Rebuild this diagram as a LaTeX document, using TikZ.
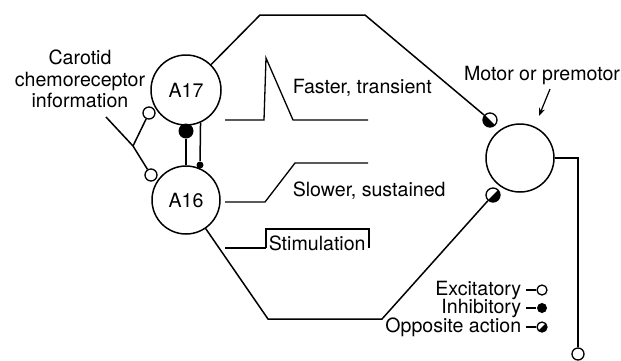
\documentclass[tikz,border=0pt]{standalone}
\usepackage{fontspec}
\setmainfont{TeX Gyre Heros}
\usetikzlibrary{arrows.meta, calc}

\begin{document}
\begin{tikzpicture}[x=1pt, y=-1pt, line width=1.5pt,
    font=\fontsize{19.6}{21.5}\selectfont,
    cell/.style={circle, draw, line width=1.5pt, minimum size=70pt, inner sep=0pt},
    excit/.style={circle, draw, fill=white, line width=1.3pt, minimum size=12pt, inner sep=0pt},
    inhib/.style={circle, fill=black, minimum size=15pt, inner sep=0pt},
    oppoA/.style={circle, draw, fill=white, line width=1.3pt, minimum size=14pt, inner sep=0pt,
      path picture={\fill[black] (path picture bounding box.north west) -- (path picture bounding box.south west) -- (path picture bounding box.south east) -- cycle;}},
    oppoB/.style={circle, draw, fill=white, line width=1.3pt, minimum size=14pt, inner sep=0pt,
      path picture={\fill[black] (path picture bounding box.south west) -- (path picture bounding box.south east) -- (path picture bounding box.north east) -- cycle;}},
    lbl/.style={inner sep=0pt}]
      \useasboundingbox (0,0) rectangle (621,360);

      % the two cells and the target
      \node[cell] (a17) at (186,90) {A17};
      \node[cell, minimum size=68pt] (a16) at (186,200) {A16};
      \node[cell, minimum size=68pt] (mot) at (520,158) {};

      % carotid input
      \node[lbl, align=center] (car) at (80,79) {Carotid\\chemoreceptor\\information};
      \coordinate (in) at (106,117);
      \coordinate (br) at (133,146);
      \draw (in) -- (br);
      \node[excit] (e17) at (149,113) {};
      \node[excit] (e16) at (151,175) {};
      \draw (br) -- (e17);
      \draw (br) -- (e16);

      % mutual connections
      \node[inhib] (ib) at (186,131) {};
      \draw (ib) -- (a16);
      \node[circle, fill=black, minimum size=7pt, inner sep=0pt] (sd) at (200,165) {};
      \draw (a17.-66) -- (sd);

      % projections to the motor cell
      \coordinate (tl) at (260,15);
      \coordinate (tr) at (365,15);
      \node[oppoA] (s1) at (490,120) {};
      \draw (a17) -- (tl) -- (tr) -- (s1);
      \coordinate (bl) at (268,319);
      \coordinate (bm) at (382,319);
      \node[oppoB] (s2) at (493,195) {};
      \draw (a16) -- (bl) -- (bm) -- (s2);

      \node[excit] (out) at (578,354) {};
      \draw (mot.east) -| (out);

      \node[lbl] (mlab) at (542,75) {Motor or premotor};
      \coordinate (tip) at (539,116);
      \draw[-{Stealth[length=8pt, width=6pt]}, line width=1.2pt] ([xshift=8pt, yshift=-4pt]mlab.south) -- (tip);

      % responses
      \draw[line width=1.3pt] (225,120) -- (264,120) -- (266,58) -- (293,120) -- (368,120);
      \node[lbl, anchor=west] (fast) at (292,88) {Faster, transient};
      \draw[line width=1.3pt] (225,202) -- (265,202) -- (295,163) -- (368,163);
      \node[lbl, anchor=west] (slow) at (292,191) {Slower, sustained};
      \draw[line width=2.2pt] (225,248) -- (266,248);
      \draw[line width=1.3pt] (266,248) -- (266,229) -- (369,229) -- (369,248);
      \node[lbl, anchor=west] (stim) at (268,243) {Stimulation};

      % key
      \node[lbl, anchor=east] (lex) at (522,290) {Excitatory};
      \node[excit, minimum size=10pt] (kex) at (542,290) {};
      \draw ([xshift=4pt]lex.east) -- (kex);
      \node[lbl, anchor=east] (lin) at (522,308) {Inhibitory};
      \node[inhib, minimum size=10pt] (kin) at (542,308) {};
      \draw ([xshift=4pt]lin.east) -- (kin);
      \node[lbl, anchor=east] (lop) at (522,327) {Opposite action};
      \node[oppoB, minimum size=10pt] (kop) at (542,327) {};
      \draw ([xshift=4pt]lop.east) -- (kop);

    \end{tikzpicture}
\end{document}
